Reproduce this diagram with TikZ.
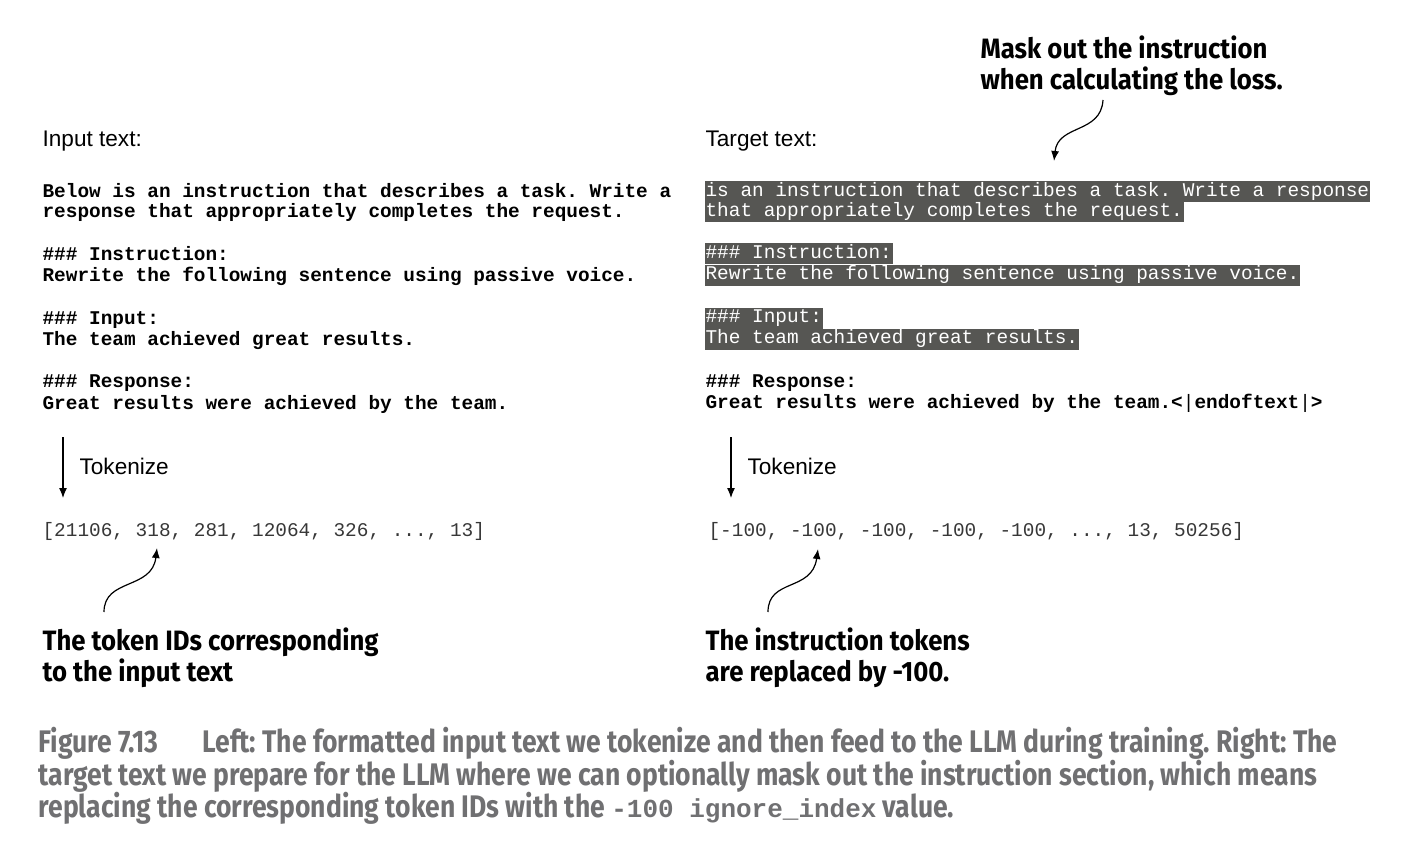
\documentclass[tikz,border=0pt]{standalone}
\usepackage{fontspec}
\setmainfont{Liberation Sans}
\newfontfamily\codefont{Liberation Mono}
\newfontfamily\notefont[FakeStretch=0.92]{Fira Sans}
\newfontfamily\capfont[FakeStretch=0.85]{Fira Sans}
\usepackage{tikz}
\usetikzlibrary{arrows.meta}
\definecolor{maskgray}{RGB}{86,86,83}
\definecolor{capgray}{RGB}{112,112,114}
\definecolor{idgray}{RGB}{55,55,55}

\begin{document}
\frenchspacing
\begin{tikzpicture}[x=0.5pt,y=-0.5pt,->,>={Latex[length=5pt,width=4pt]},line width=0.6pt,
  every node/.style={inner sep=0pt,anchor=west}]
 \tikzstyle{label}=[font=\fontsize{11.3}{13}\selectfont]
 \tikzstyle{code}=[font=\codefont\bfseries\fontsize{9.7}{10}\selectfont,text height=7.5pt,text depth=3pt]
 \tikzstyle{masked}=[font=\codefont\fontsize{9.7}{10}\selectfont,text height=7.5pt,text depth=3pt,
   fill=maskgray,text=white,inner xsep=0.5pt]
 \tikzstyle{ids}=[font=\codefont\fontsize{9.7}{10}\selectfont,text=idgray]
 \tikzstyle{note}=[font=\notefont\bfseries\fontsize{14}{15.5}\selectfont,align=left]
 \tikzstyle{caption}=[font=\capfont\bfseries\fontsize{15.6}{16}\selectfont,text=capgray]

   \useasboundingbox (0,0) rectangle (1426,856);

   % input side
   \node[label] (inlabel) at (42,141) {Input text:};
   \node[code] (in1) at (42,193) {Below is an instruction that describes a task. Write a};
   \node[code] (in2) at (42,213) {response that appropriately completes the request.};
   \node[code] (in3) at (42,256) {\#\#\# Instruction:};
   \node[code] (in4) at (42,277) {Rewrite the following sentence using passive voice.};
   \node[code] (in5) at (42,320) {\#\#\# Input:};
   \node[code] (in6) at (42,341) {The team achieved great results.};
   \node[code] (in7) at (42,383) {\#\#\# Response:};
   \node[code] (in8) at (42,405) {Great results were achieved by the team.};

   \coordinate (ltoktop) at (63,437);
   \coordinate (ltokbot) at (63,498);
   \node[label] (ltok) at (79,466) {Tokenize};
   \node[ids] (lids) at (42,531) {[21106, 318, 281, 12064, 326, ..., 13]};
   \node[note] (lnote) at (42,658) {The token IDs corresponding\\to the input text};
   \coordinate (lcurve) at (104,612);
   \coordinate (lpoint) at (157,548);

   % target side
   \node[note] (topnote) at (980,66) {Mask out the instruction\\when calculating the loss.};
   \coordinate (tcurve) at (1103,100);
   \coordinate (tpoint) at (1054,161);
   \node[label] (tglabel) at (705,141) {Target text:};
   \node[masked] (tg1) at (704,192) {is an instruction that describes a task. Write a response};
   \node[masked] (tg2) at (704,212) {that appropriately completes the request.};
   \node[masked] (tg3) at (704,254) {\#\#\# Instruction:};
   \node[masked] (tg4) at (704,275) {Rewrite the following sentence using passive voice.};
   \node[masked] (tg5) at (704,318) {\#\#\# Input:};
   \node[masked] (tg6) at (704,339) {The team achieved great results.};
   \node[code] (tg7) at (705,383) {\#\#\# Response:};
   \node[code] (tg8) at (705,404) {Great results were achieved by the team.<{\mdseries|}endoftext{\mdseries|}>};

   \coordinate (rtoktop) at (731,437);
   \coordinate (rtokbot) at (731,498);
   \node[label] (rtok) at (747,466) {Tokenize};
   \node[ids] (rids) at (708,531) {[-100, -100, -100, -100, -100, ..., 13, 50256]};
   \node[note] (rnote) at (705,658) {The instruction tokens\\are replaced by -100.};
   \coordinate (rcurve) at (768,612);
   \coordinate (rpoint) at (818,549);

   % arrows
   \draw (ltoktop) -- (ltokbot);
   \draw (rtoktop) -- (rtokbot);
   \draw (lcurve) .. controls (104,578) and (152,590) .. (lpoint);
   \draw (rcurve) .. controls (768,578) and (812,592) .. (rpoint);
   \draw (tcurve) .. controls (1101,134) and (1058,124) .. (tpoint);

   % caption
   \node[caption] (cap1) at (38,743) {Figure 7.13\hspace{22pt}Left: The formatted input text we tokenize and then feed to the LLM during training. Right: The};
   \node[caption] (cap2) at (38,776) {target text we prepare for the LLM where we can optionally mask out the instruction section, which means};
   \node[caption] (cap3) at (38,808) {replacing the corresponding token IDs with the {\codefont\bfseries\fontsize{13}{16}\selectfont -100 ignore\_index} value.};

\end{tikzpicture}
\end{document}
